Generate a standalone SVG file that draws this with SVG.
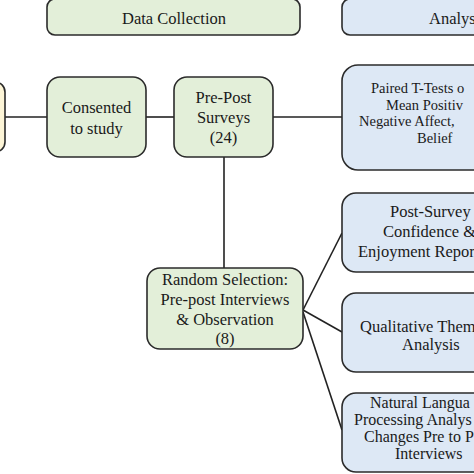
<svg xmlns="http://www.w3.org/2000/svg" width="474" height="474" viewBox="0 0 474 474">
<style>
.box{stroke:#2b2b2b;stroke-width:1.6}
.g{fill:#e3efd9}
.b{fill:#dde8f5}
.y{fill:#fdf5d7}
text{font-family:"Liberation Serif","Times New Roman",serif;font-size:16.5px;fill:#1a1a1a}
.m{text-anchor:middle}
.s{font-size:14.5px}
.n{font-size:16px}
.c line{stroke:#222;stroke-width:1.6}
</style>
<rect width="474" height="474" fill="#ffffff"/>
<g id="hdr-data">
<rect class="box g" x="47" y="-1" width="253" height="36" rx="8"/>
<text class="m" x="174" y="24">Data Collection</text>
</g>
<g id="hdr-analysis">
<rect class="box b" x="342" y="-1" width="240" height="36" rx="8"/>
<text x="429" y="24">Analys</text>
</g>
<g class="c" id="connectors">
<line x1="5" y1="117" x2="47" y2="117"/>
<line x1="146" y1="117" x2="174" y2="117"/>
<line x1="273" y1="117" x2="342" y2="117"/>
<line x1="224" y1="157" x2="224" y2="268"/>
<line x1="303" y1="310" x2="342" y2="233"/>
<line x1="303" y1="310" x2="342" y2="332"/>
<line x1="303" y1="312" x2="342" y2="430"/>
</g>
<g id="start">
<rect class="box y" x="-30" y="82" width="35" height="70" rx="10"/>
</g>
<g id="consented">
<rect class="box g" x="47" y="77" width="99" height="80" rx="13"/>
<text class="m" x="96.5" y="113">Consented</text>
<text class="m" x="96.5" y="134">to study</text>
</g>
<g id="prepost">
<rect class="box g" x="174" y="77" width="99" height="80" rx="13"/>
<text class="m" x="223.5" y="103">Pre-Post</text>
<text class="m" x="223.5" y="123">Surveys</text>
<text class="m" x="223.5" y="143">(24)</text>
</g>
<g id="random">
<rect class="box g" x="147" y="268" width="156" height="81" rx="13"/>
<text class="m" x="225" y="285">Random Selection:</text>
<text class="m" x="225" y="305">Pre-post Interviews</text>
<text class="m" x="225" y="325">&amp; Observation</text>
<text class="m" x="225" y="344">(8)</text>
</g>
<g id="ttests">
<rect class="box b" x="342" y="65" width="200" height="105" rx="16"/>
<text class="s" x="371" y="93">Paired T-Tests o</text>
<text class="s" x="386" y="109.5">Mean Positiv</text>
<text class="s" x="359" y="126">Negative Affect,</text>
<text class="s" x="417" y="142.5">Belief</text>
</g>
<g id="postsurvey">
<rect class="box b" x="342" y="193" width="200" height="79" rx="14"/>
<text x="390" y="217">Post-Survey</text>
<text x="383" y="237">Confidence &amp;</text>
<text x="358" y="257">Enjoyment Repor</text>
</g>
<g id="qualitative">
<rect class="box b" x="342" y="293" width="200" height="79" rx="14"/>
<text x="360" y="332">Qualitative Them</text>
<text x="402" y="350">Analysis</text>
</g>
<g id="nlp">
<rect class="box b" x="342" y="393" width="200" height="79" rx="14"/>
<text class="n" x="370" y="407.5">Natural Langua</text>
<text class="n" x="354" y="424.5">Processing Analys</text>
<text class="n" x="364" y="441.5">Changes Pre to P</text>
<text class="n" x="395" y="458.5">Interviews</text>
</g>
</svg>
